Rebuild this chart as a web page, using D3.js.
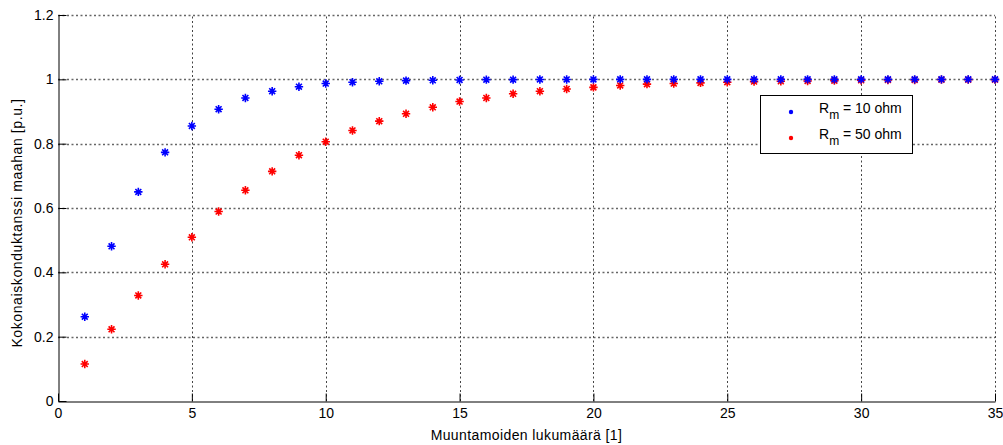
<!DOCTYPE html>
<html>
<head>
<meta charset="utf-8">
<script src="https://cdn.jsdelivr.net/npm/d3@7"></script>
<style>
  body { margin: 0; background: #fff; }
  text { font-family: "Liberation Sans", Arial, sans-serif; }
</style>
</head>
<body>
<svg id="chart"></svg>
<script>
const width = 1003;
const height = 445;

// data
const counts = d3.range(1, 36);
const rm10 = [0.262, 0.481, 0.650, 0.773, 0.855, 0.907, 0.942, 0.963, 0.977, 0.987,
  0.991, 0.994, 0.996, 0.997, 0.998, 0.999, 0.999, 0.9995, 0.9997, 0.9998,
  0.9999, 1, 1, 1, 1, 1, 1, 1, 1, 1, 1, 1, 1, 1, 1];
const rm50 = [0.115, 0.223, 0.328, 0.425, 0.509, 0.589, 0.655, 0.714, 0.764, 0.806,
  0.841, 0.870, 0.893, 0.913, 0.931, 0.942, 0.955, 0.963, 0.970, 0.975,
  0.981, 0.985, 0.987, 0.989, 0.991, 0.993, 0.994, 0.995, 0.996, 0.997,
  0.998, 0.998, 0.999, 0.999, 0.999];
const xTicks = [0, 5, 10, 15, 20, 25, 30, 35];
const yTicks = [0, 0.2, 0.4, 0.6, 0.8, 1, 1.2];
const seriesNames = ["10 ohm", "50 ohm"];
const seriesColors = ["#0000ff", "#ff0000"];

const margin = {top: 15, right: 8, bottom: 44, left: 58};

const svg = d3.select("svg#chart")
  .attr("width", width)
  .attr("height", height);

const x = d3.scaleLinear()
  .domain([0, 35])
  .range([margin.left, width - margin.right]);
const y = d3.scaleLinear()
  .domain([0, 1.2])
  .range([height - margin.bottom, margin.top]);

// grid
const grid = svg.append("g").attr("id", "grid")
  .attr("stroke", "#444")
  .attr("stroke-width", 1)
  .attr("stroke-dasharray", "2,2.5");
grid.selectAll("line.v")
  .data(xTicks.slice(1))
  .enter().append("line")
    .attr("class", "v")
    .attr("x1", d => Math.round(x(d)) + 0.5)
    .attr("x2", d => Math.round(x(d)) + 0.5)
    .attr("y1", y(0))
    .attr("y2", y(1.2));
grid.selectAll("line.h")
  .data(yTicks.slice(1))
  .enter().append("line")
    .attr("class", "h")
    .attr("stroke", "#666")
    .attr("stroke-width", 1.4)
    .attr("x1", x(0))
    .attr("x2", x(35))
    .attr("y1", d => Math.round(y(d)) + 0.5)
    .attr("y2", d => Math.round(y(d)) + 0.5);

// axes, ticks inward
svg.append("g")
  .attr("id", "xAxis")
  .attr("transform", "translate(0," + (Math.round(y(0)) + 0.5) + ")")
  .call(d3.axisBottom(x).tickValues(xTicks).tickSizeInner(-8).tickSizeOuter(0).tickPadding(7))
  .call(g => g.selectAll("text").attr("font-size", 14).attr("fill", "#000")
    .attr("font-family", "Liberation Sans, Arial, sans-serif"))
  .call(g => g.select(".domain").attr("stroke", "#000"));

svg.append("g")
  .attr("id", "yAxis")
  .attr("transform", "translate(" + (Math.round(x(0)) + 0.5) + ",0)")
  .call(d3.axisLeft(y).tickValues(yTicks).tickFormat(d3.format("~g")).tickSizeInner(-8).tickSizeOuter(0).tickPadding(5))
  .call(g => g.selectAll("text").attr("font-size", 14).attr("fill", "#000")
    .attr("font-family", "Liberation Sans, Arial, sans-serif"))
  .call(g => g.select(".domain").attr("stroke", "#000"));

// asterisk marker
const r = 4.2;
const star = "M" + (-r) + ",0H" + r + "M0," + (-r) + "V" + r +
  "M" + (-r * 0.7) + "," + (-r * 0.7) + "L" + (r * 0.7) + "," + (r * 0.7) +
  "M" + (-r * 0.7) + "," + (r * 0.7) + "L" + (r * 0.7) + "," + (-r * 0.7);

[rm50, rm10].forEach((vals, k) => {
  const idx = k === 0 ? 1 : 0;
  svg.append("g").attr("class", "series")
    .selectAll("path")
    .data(counts.map((c, i) => ({c: c, v: vals[i]})))
    .enter().append("path")
      .attr("d", star)
      .attr("transform", d => "translate(" + x(d.c) + "," + y(d.v) + ")")
      .attr("fill", "none")
      .attr("stroke", seriesColors[idx])
      .attr("stroke-width", 1.6);
});

// axis titles
svg.append("text")
  .attr("x", (x(0) + x(35)) / 2)
  .attr("y", 440)
  .attr("text-anchor", "middle")
  .attr("font-size", 14)
  .attr("letter-spacing", 0.4)
  .text("Muuntamoiden lukumäärä [1]");

svg.append("text")
  .attr("transform", "translate(22,223) rotate(-90)")
  .attr("text-anchor", "middle")
  .attr("font-size", 14)
  .attr("letter-spacing", 0.6)
  .text("Kokonaiskonduktanssi maahan [p.u.]");

// legend
const legend = svg.append("g").attr("id", "legend");
legend.append("rect")
  .attr("x", 760.5)
  .attr("y", 95.5)
  .attr("width", 152)
  .attr("height", 58)
  .attr("fill", "#fff")
  .attr("stroke", "#000")
  .attr("stroke-width", 1);
const items = legend.selectAll("g.item")
  .data(seriesNames)
  .enter().append("g")
    .attr("class", "item")
    .attr("transform", (d, i) => "translate(0," + (112 + i * 26) + ")");
items.append("circle")
  .attr("cx", 791)
  .attr("cy", 0)
  .attr("r", 2.2)
  .attr("fill", (d, i) => seriesColors[i]);
const lt = items.append("text")
  .attr("x", 819)
  .attr("y", 1)
  .attr("font-size", 14);
lt.append("tspan").text("R");
lt.append("tspan").attr("dy", 6).attr("font-size", 12).text("m");
lt.append("tspan").attr("dy", -6).text(d => " = " + d);
</script>
</body>
</html>
